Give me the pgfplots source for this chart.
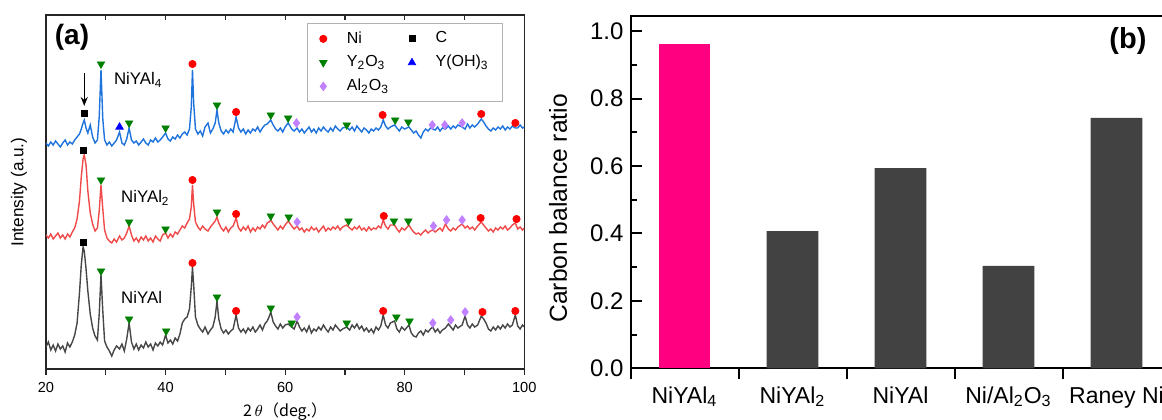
\documentclass[border=0pt]{standalone}
\usepackage{fontspec}
\setmainfont{Liberation Sans}
\newfontfamily\cjk{Noto Sans CJK JP}
\usepackage{pgfplots}
\usepackage{pgfplotstable}
\pgfplotsset{compat=1.18}
\usetikzlibrary{arrows.meta}
\definecolor{blueline}{HTML}{1E73DC}
\definecolor{redline}{HTML}{F04A4A}
\definecolor{grayline}{HTML}{474747}
\definecolor{nired}{HTML}{FF0000}
\definecolor{ygreen}{HTML}{008000}
\definecolor{alviolet}{HTML}{C080FF}
\definecolor{yohblue}{HTML}{0000FF}
\definecolor{pinkbar}{HTML}{FF0080}
\definecolor{darkbar}{HTML}{424242}

% XRD traces, stacked: b = NiYAl4, r = NiYAl2, k = NiYAl (a.u. incl. offset)
\pgfplotstableread{
x b r k
20.0 226 134 22
20.4 223 131 27
20.8 227 135 19
21.2 224 130 24
21.6 228 133 18
22.0 225 136 25
22.4 222 131 20
22.8 226 134 23
23.2 229 130 17
23.6 224 135 26
24.0 227 132 22
24.4 225 137 27
24.8 229 141 34
25.2 232 150 46
25.6 235 168 76
25.9 240 192 104
26.2 246 210 122
26.4 249 214 118
26.7 241 204 100
27.0 236 178 78
27.4 244 156 55
27.8 232 145 41
28.2 226 138 33
28.6 229 141 29
28.9 252 158 55
29.2 299 184 94
29.5 250 160 58
29.8 229 139 28
30.2 224 131 22
30.6 227 128 18
31.0 223 126 13
31.4 226 130 19
31.8 229 127 23
32.3 237 133 20
32.7 226 129 25
33.1 224 131 18
33.5 230 136 30
33.9 241 143 46
34.3 229 134 27
34.7 226 128 20
35.1 228 131 25
35.5 224 127 19
35.9 227 132 24
36.3 230 129 21
36.7 226 133 27
37.1 224 128 22
37.5 229 131 25
37.9 227 127 19
38.3 231 133 26
38.7 227 130 23
39.1 229 128 27
39.5 232 134 24
40.0 236 136 34
40.4 230 131 26
40.8 228 135 29
41.2 232 132 25
41.6 230 137 31
42.0 234 135 28
42.4 231 139 35
42.8 235 143 46
43.2 237 141 50
43.6 234 146 52
44.0 240 150 60
44.3 262 162 82
44.5 299 184 102
44.7 266 165 84
45.0 240 147 52
45.4 235 142 44
45.8 238 139 40
46.2 233 143 37
46.6 242 140 42
47.1 246 138 35
47.5 236 142 39
47.9 240 145 42
48.3 246 148 52
48.6 259 152 68
48.9 246 146 50
49.3 238 141 40
49.7 235 138 36
50.1 239 142 39
50.5 236 137 35
50.9 240 141 38
51.3 237 143 40
51.8 252 151 54
52.2 241 141 41
52.6 237 138 37
53.0 240 142 40
53.4 235 139 36
53.8 239 143 41
54.2 236 137 38
54.6 240 141 42
55.0 238 138 37
55.4 242 142 40
55.8 237 140 44
56.2 241 144 39
56.6 244 141 45
57.0 245 146 48
57.3 247 147 52
57.6 249 149 57
58.0 244 145 47
58.4 240 142 43
58.8 238 139 40
59.2 241 143 45
59.6 237 140 41
60.0 242 144 44
60.5 246 148 45
61.1 240 143 42
61.5 238 140 40
62.0 241 143 48
62.4 237 139 42
62.8 240 141 38
63.2 236 137 41
63.6 239 140 37
64.0 242 138 43
64.4 237 142 36
64.8 240 139 40
65.2 236 141 38
65.6 241 137 42
66.0 238 140 39
66.4 242 143 44
66.8 239 138 40
67.2 237 141 37
67.6 241 139 42
68.0 238 142 39
68.4 243 140 44
68.8 240 143 41
69.2 238 139 38
69.6 241 142 40
70.3 242 144 42
70.8 239 141 39
71.2 242 139 44
71.6 238 142 41
72.0 243 140 45
72.4 240 143 40
72.8 237 139 43
73.2 241 141 38
73.6 239 138 41
74.0 236 142 37
74.4 240 139 40
74.8 238 141 36
75.2 241 140 42
75.6 239 143 39
76.0 242 141 43
76.4 249 149 54
76.8 243 143 44
77.2 240 140 41
77.6 242 144 46
78.3 244 144 48
78.7 241 140 40
79.1 238 137 37
79.5 242 141 42
80.0 240 139 39
80.7 242 144 44
81.1 239 140 36
81.5 236 137 33
81.9 238 135 32
82.3 234 136 36
82.7 231 134 38
83.1 237 137 34
83.5 240 139 39
83.9 238 136 37
84.3 241 138 40
84.7 240 139 42
85.1 239 137 37
85.5 242 139 40
85.9 238 141 36
86.3 241 138 39
86.8 240 145 41
87.3 243 140 45
87.7 240 138 42
88.1 243 141 39
88.5 241 139 44
88.9 244 142 41
89.6 242 145 44
90.1 240 141 53
90.5 245 143 44
90.9 241 140 41
91.3 244 142 45
91.7 242 139 42
92.2 245 143 44
92.8 250 147 53
93.2 247 144 50
93.6 243 141 46
94.0 240 138 40
94.4 238 140 38
94.8 241 137 42
95.2 239 141 39
95.6 242 139 43
96.0 240 142 40
96.4 243 140 44
96.8 239 143 41
97.2 242 139 45
97.6 240 141 42
98.0 243 144 44
98.5 241 146 54
98.9 241 140 43
99.3 244 142 40
99.7 241 139 44
100.0 242 141 42
}\xrd

\begin{document}
\begin{tikzpicture}
\useasboundingbox (0,0) rectangle (581pt,209.5pt);
\clip (0,0) rectangle (581pt,209.5pt);

% ---------- (a) XRD ----------
\begin{axis}[
  at={(23pt,25pt)}, anchor=south west,
  scale only axis, width=239.15pt, height=177pt,
  xmin=20, xmax=100, ymin=0, ymax=354,
  xtick={20,40,60,80,100}, minor xtick={30,50,70,90},
  xtick pos=left, tick align=outside,
  major tick length=3pt, minor tick length=3pt,
  ytick=\empty,
  axis line style={line width=0.6pt, black!85},
  every tick/.style={line width=0.6pt, black!85},
  tick label style={font=\fontsize{7.3}{8}\selectfont},
  /pgf/number format/assume math mode=true,
  xlabel={{\cjk 2}\,$\theta${\cjk （deg.）}},
  every axis x label/.style={at={(axis description cs:0.5,-0.12)}, anchor=center, font=\fontsize{8}{9}\selectfont},
  ylabel={Intensity (a.u.)},
  every axis y label/.style={at={(axis description cs:-0.0565,0.5)}, rotate=90, anchor=center, font=\fontsize{8.6}{9}\selectfont},
  legend columns=2,
  legend cell align=left,
  legend image code/.code={\draw[#1] plot coordinates {(0pt,0pt)};},
  legend style={at={(0.9555,0.977)}, anchor=north east, draw=gray!60, line width=0.4pt,
    font=\fontsize{8}{9}\selectfont, inner xsep=6pt, inner ysep=2pt,
    row sep=0.6pt,
    nodes={inner xsep=1pt},
    /tikz/every odd column/.append style={column sep=9pt},
    /tikz/every even column/.append style={column sep=8.7pt}},
]
\addplot[blueline, line width=0.7pt, forget plot] table[x=x, y=b] {\xrd};
\addplot[redline, line width=0.7pt, forget plot] table[x=x, y=r] {\xrd};
\addplot[grayline, line width=0.7pt, forget plot] table[x=x, y=k] {\xrd};

% phase markers
\addplot[only marks, mark=*, mark size=1.8pt, color=nired] coordinates {
  (44.5,305) (51.8,257) (76.3,254) (92.8,255) (98.5,246)
  (44.5,189) (51.8,155) (76.5,153) (92.7,151) (98.7,150)
  (44.5,106) (51.8,58) (76.4,58) (93.0,57) (98.5,58)};
\addlegendentry{Ni}
\addplot[only marks, mark=square*, mark size=1.5pt, color=black] coordinates {
  (26.4,256) (26.3,219) (26.2,127)};
\addlegendentry{C}
\addplot[only marks, mark=triangle*, mark size=2.1pt, mark options={rotate=180}, color=ygreen] coordinates {
  (29.2,305) (33.9,246) (40.0,241) (48.6,264) (57.6,254) (60.5,251) (70.3,244) (78.4,249) (80.6,247)
  (29.2,189) (33.9,147) (40.0,140) (48.6,157) (57.6,153) (60.6,152) (70.6,148) (78.2,148) (80.6,148)
  (29.2,98) (33.9,50) (40.1,38) (48.6,72) (57.6,61) (61.1,46) (70.3,46) (78.6,52) (80.8,48)};
\addlegendentry{Y\textsubscript{2}O\textsubscript{3}}
\addplot[only marks, mark=triangle*, mark size=2.1pt, color=yohblue] coordinates {(32.3,242)};
\addlegendentry{Y(OH)\textsubscript{3}}
\addplot[only marks, mark=diamond*, mark size=2.1pt, color=alviolet] coordinates {
  (61.9,246) (84.6,244) (86.7,244) (89.6,246)
  (62.0,147) (84.8,143) (87.0,149) (89.6,149)
  (62.0,52) (84.7,46) (87.7,49) (90.1,57)};
\addlegendentry{Al\textsubscript{2}O\textsubscript{3}}

\draw[-{Stealth[length=4.5pt,width=3.5pt]}, line width=0.7pt] (axis cs:26.4,296) -- (axis cs:26.4,263);
\node[anchor=west, font=\fontsize{8.4}{9}\selectfont] at (axis cs:30.2,289) {NiYAl\textsubscript{4}};
\node[anchor=west, font=\fontsize{8.4}{9}\selectfont] at (axis cs:31.4,171) {NiYAl\textsubscript{2}};
\node[anchor=west, font=\fontsize{8.4}{9}\selectfont] at (axis cs:31.4,72) {NiYAl};
\node[font=\fontsize{14}{16}\selectfont\bfseries] at (axis cs:24.35,332) {(a)};
\end{axis}

% top ticks of (a), pointing inwards
\begin{axis}[
  at={(23pt,25pt)}, anchor=south west,
  scale only axis, width=239.15pt, height=177pt,
  xmin=20, xmax=100, ymin=0, ymax=354,
  axis line style={draw=none},
  xtick={20,30,...,100}, xticklabels={},
  xtick pos=right, tick align=inside, major tick length=2.5pt,
  every tick/.style={line width=0.6pt, black!85},
  ytick=\empty,
]
\addplot[draw=none, forget plot] coordinates {(20,0) (100,0)};
\end{axis}

% ---------- (b) carbon balance ----------
\begin{axis}[
  at={(315.25pt,25.35pt)}, anchor=south west,
  scale only axis, width=270pt, height=176.15pt,
  xmin=-0.5, xmax=4.5, ymin=0, ymax=1.045,
  xtick={-0.5,0.5,1.5,2.5,3.5,4.5}, xticklabels={},
  extra x ticks={0,1,2,3,4},
  extra x tick labels={NiYAl\textsubscript{4}, NiYAl\textsubscript{2}, NiYAl, Ni/Al\textsubscript{2}O\textsubscript{3}, Raney Ni},
  extra x tick style={tick style={draw=none}},
  xtick pos=left, ytick pos=left,
  xtick align=outside, ytick align=inside,
  ytick={0,0.2,...,1.0}, minor y tick num=1,
  major tick length=5.5pt, minor tick length=3.3pt,
  axis line style={line width=1pt},
  every tick/.style={line width=1pt, black},
  tick label style={font=\fontsize{12}{14}\selectfont},
  x tick label style={font=\fontsize{11.5}{13}\selectfont},
  /pgf/number format/assume math mode=true,
  yticklabel style={/pgf/number format/.cd, fixed, fixed zerofill, precision=1},
  ylabel={Carbon balance ratio},
  every axis y label/.style={at={(axis description cs:-0.1343,0.454)}, rotate=90, anchor=center, font=\fontsize{12.3}{14}\selectfont},
]
\addplot[ybar, bar width=0.48, bar shift=0pt, fill=pinkbar, draw=none] coordinates {(0,0.961)};
\addplot[ybar, bar width=0.48, bar shift=0pt, fill=darkbar, draw=none] coordinates {(1,0.407) (2,0.594) (3,0.304) (4,0.743)};
\node[font=\fontsize{14.5}{16}\selectfont\bfseries] at (axis cs:4.106,0.972) {(b)};
\end{axis}
\end{tikzpicture}
\end{document}
